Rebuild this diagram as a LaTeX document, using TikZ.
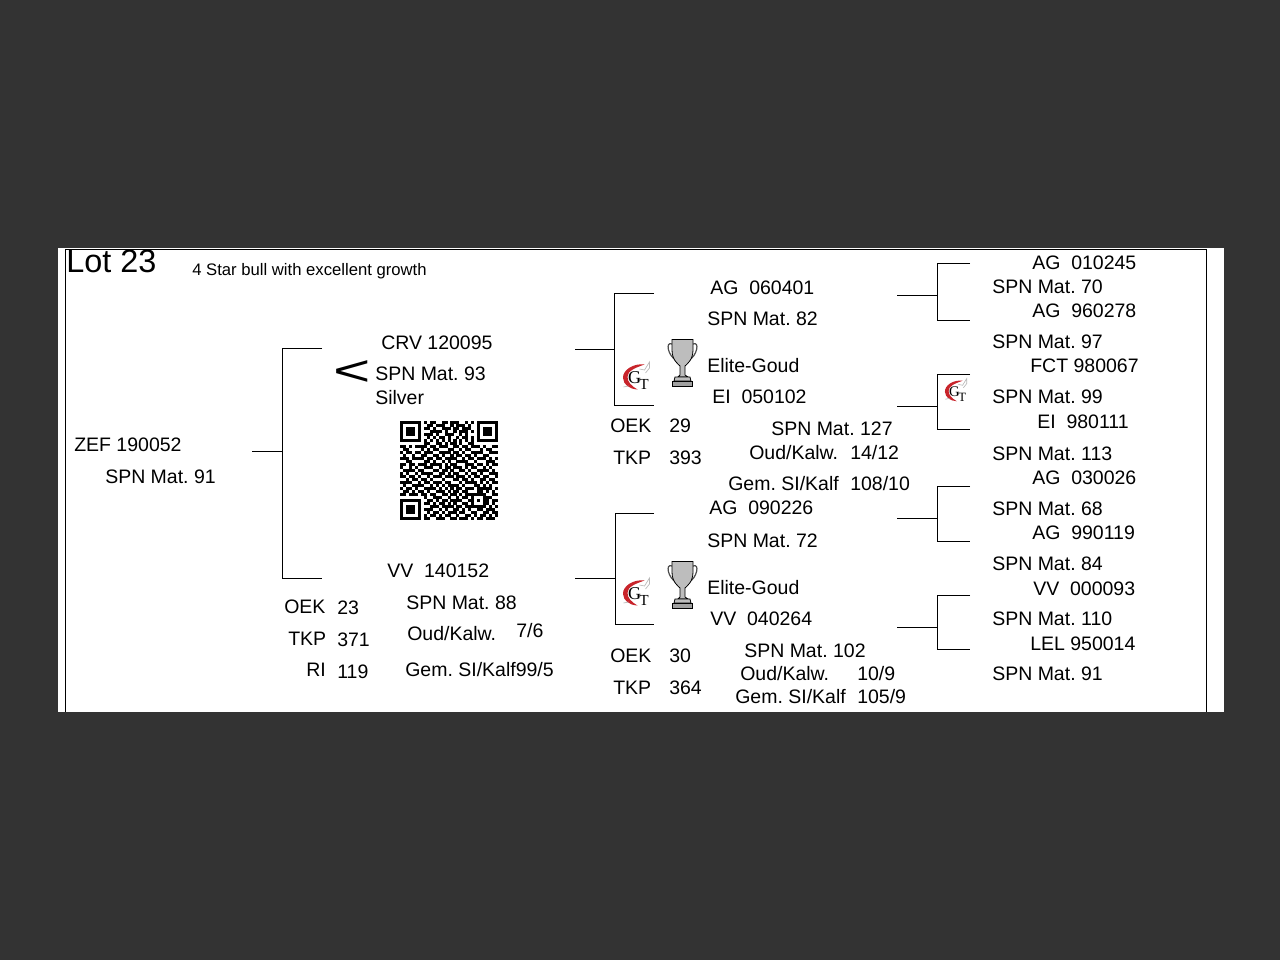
\documentclass[tikz,border=0pt]{standalone}
\usepackage{fontspec}
\setmainfont{Liberation Sans}
\definecolor{bgdark}{HTML}{333333}
\definecolor{logored}{HTML}{C8242B}
\definecolor{cupgrey}{HTML}{BDBDBD}
\newcount\qrx
\def\qrscan#1{\ifx#1;\else\ifx#11\fill ({400+2.97*\the\qrx},{421+3*\qrrowno}) rectangle ({400+2.97*\the\qrx+3.05},{421+3*\qrrowno+3.05});\fi\advance\qrx by 1 \expandafter\qrscan\fi}
\newcommand{\gtlogo}[5]{%
 \begin{scope}[shift={(#1,#2)},scale=#3]
  \fill[logored] (8,-12.5) .. controls (-3,-14) and (-14,-7) .. (-13.5,1) .. controls (-13,8) and (-7,12) .. (1,12.5) .. controls (-5,9) and (-9,5) .. (-9,0) .. controls (-9,-6) and (-2,-9) .. (8,-12.5) -- cycle;
  \draw[gray!55,line width=.5pt] (3,-8) -- (8,-7) -- (13,-15) -- (13,-9) -- (9,-4);
  \draw[gray!55,line width=.5pt] (-13,10) -- (-8,9);
  \node[font=\fontsize{#4}{#4}\selectfont,inner sep=0pt] (logoG) at (-2,1) {\fontspec{Liberation Serif}G};
  \node[font=\fontsize{#5}{#5}\selectfont,inner sep=0pt] (logoT) at (7.5,7.5) {\fontspec{Liberation Serif}T};
 \end{scope}}
\newcommand{\trophy}[1]{%
 \begin{scope}[yshift=#1]
  \draw[black!70,line width=.9pt] (672,344) .. controls (665,341) and (668,356) .. (676,360);
  \draw[black!70,line width=.9pt] (693,344) .. controls (700,341) and (697,356) .. (689,360);
  \draw[black,line width=.6pt,fill=cupgrey] (672,339.5) -- (693,339.5) -- (693,350) .. controls (693,360) and (687,364) .. (685,366) -- (685,375) -- (688,377) -- (678,377) -- (680,375) -- (680,366) .. controls (678,364) and (672,360) .. (672,350) -- cycle;
  \draw[black,line width=.6pt,fill=cupgrey] (675,377) -- (690,377) -- (691,381) -- (674,381) -- cycle;
  \draw[black,line width=.6pt,fill=cupgrey!85!black] (672.5,381) -- (692.5,381) -- (692.5,386.5) -- (672.5,386.5) -- cycle;
 \end{scope}}
\tikzset{
 lbl/.style={anchor=base west,inner sep=0pt,font=\fontsize{14.62pt}{16pt}\selectfont,text=black},
 conn/.style={draw=black,line width=.75pt},
 frameline/.style={draw=black,line width=1pt},
}
\begin{document}
\frenchspacing
\begin{tikzpicture}[x=.75pt,y=-.75pt]
\useasboundingbox (0,0) rectangle (1280,960);
\fill[bgdark] (0,0) rectangle (1280,960);
\fill[white] (58,248) rectangle (1224,712);
% frame
\coordinate (fa) at (65.5,712); \coordinate (fb) at (65.5,249.5); \coordinate (fc) at (1206.5,249.5); \coordinate (fd) at (1206.5,712);
\draw[frameline] (fa) -- (fb) -- (fc) -- (fd);
% title
\node[lbl,font=\fontsize{24.3pt}{26pt}\selectfont] (lot) at (66,272) {Lot 23};
\node[lbl,font=\fontsize{12.5pt}{14pt}\selectfont] (sub) at (192,275) {4 Star bull with excellent growth};
% column 1
\node[lbl] (n01) at (74,451) {ZEF 190052};
\node[lbl] (n02) at (105,483) {SPN Mat. 91};
% column 2
\node[lbl] (n03) at (381,349) {CRV 120095};
\node[lbl] (n04) at (375,380) {SPN Mat. 93};
\node[lbl] (n05) at (375,404) {Silver};
\node[lbl,font=\fontsize{32pt}{32pt}\selectfont,xscale=1.5,anchor=center] (lt) at (352,373) {<};
\node[lbl] (n06) at (387,577) {VV\ \ 140152};
\node[lbl] (n07) at (406,609) {SPN Mat. 88};
\node[lbl] (n08) at (407,640) {Oud/Kalw.};
\node[lbl] (n09) at (516,637) {7/6};
\node[lbl] (n10) at (405,676) {Gem. SI/Kalf99/5};
\node[lbl] (n11) at (284,613) {OEK};
\node[lbl] (n12) at (337,614) {23};
\node[lbl] (n13) at (288,645) {TKP};
\node[lbl] (n14) at (337,646) {371};
\node[lbl] (n15) at (306,676) {RI};
\node[lbl] (n16) at (337,678) {119};
% column 3
\node[lbl] (n17) at (610,432) {OEK};
\node[lbl] (n18) at (669,432) {29};
\node[lbl] (n19) at (613,464) {TKP};
\node[lbl] (n20) at (669,464) {393};
\node[lbl] (n21) at (710,294) {AG\ \ 060401};
\node[lbl] (n22) at (707,325) {SPN Mat. 82};
\node[lbl] (n23) at (707,372) {Elite-Goud};
\node[lbl] (n24) at (712,403) {EI\ \ 050102};
\node[lbl] (n25) at (771,435) {SPN Mat. 127};
\node[lbl] (n26) at (749,459) {Oud/Kalw.};
\node[lbl] (n27) at (850,459) {14/12};
\node[lbl] (n28) at (728,490) {Gem. SI/Kalf};
\node[lbl] (n29) at (850,490) {108/10};
\node[lbl] (n30) at (709,514) {AG\ \ 090226};
\node[lbl] (n31) at (707,547) {SPN Mat. 72};
\node[lbl] (n32) at (707,594) {Elite-Goud};
\node[lbl] (n33) at (710,625) {VV\ \ 040264};
\node[lbl] (n34) at (744,657) {SPN Mat. 102};
\node[lbl] (n35) at (740,680) {Oud/Kalw.};
\node[lbl] (n36) at (857,680) {10/9};
\node[lbl] (n37) at (735,703) {Gem. SI/Kalf};
\node[lbl] (n38) at (857,703) {105/9};
\node[lbl] (n39) at (610,662) {OEK};
\node[lbl] (n40) at (669,662) {30};
\node[lbl] (n41) at (613,694) {TKP};
\node[lbl] (n42) at (669,694) {364};
% column 4
\node[lbl] (r01) at (1032,269) {AG\ \ 010245};
\node[lbl] (r02) at (992,293) {SPN Mat. 70};
\node[lbl] (r03) at (1032,317) {AG\ \ 960278};
\node[lbl] (r04) at (992,348) {SPN Mat. 97};
\node[lbl] (r05) at (1030,372) {FCT 980067};
\node[lbl] (r06) at (992,403) {SPN Mat. 99};
\node[lbl] (r07) at (1037,428) {EI\ \ 980111};
\node[lbl] (r08) at (992,460) {SPN Mat. 113};
\node[lbl] (r09) at (1032,484) {AG\ \ 030026};
\node[lbl] (r10) at (992,515) {SPN Mat. 68};
\node[lbl] (r11) at (1032,539) {AG\ \ 990119};
\node[lbl] (r12) at (992,570) {SPN Mat. 84};
\node[lbl] (r13) at (1033,595) {VV\ \ 000093};
\node[lbl] (r14) at (992,625) {SPN Mat. 110};
\node[lbl] (r15) at (1030,650) {LEL 950014};
\node[lbl] (r16) at (992,680) {SPN Mat. 91};
% brackets
\coordinate (a0) at (252,451); \coordinate (am) at (282.5,451); \coordinate (a1) at (322,348.5); \coordinate (a2) at (322,578.5);
\draw[conn] (a0) -- (am);
\draw[conn] (a1) -| (am) |- (a2);
\coordinate (b0) at (575,349.5); \coordinate (bm) at (614.5,349.5); \coordinate (b1) at (654,293.5); \coordinate (b2) at (654,405.5);
\draw[conn] (b0) -- (bm);
\draw[conn] (b1) -| (bm) |- (b2);
\coordinate (c0) at (575,578.5); \coordinate (cm) at (615.5,578.5); \coordinate (c1) at (654,513.5); \coordinate (c2) at (654,624.5);
\draw[conn] (c0) -- (cm);
\draw[conn] (c1) -| (cm) |- (c2);
\coordinate (d0) at (897,295.5); \coordinate (dm) at (937.8,295.5); \coordinate (d1) at (970,263.5); \coordinate (d2) at (970,320.5);
\draw[conn] (d0) -- (dm);
\draw[conn] (d1) -| (dm) |- (d2);
\coordinate (e0) at (897,406.5); \coordinate (em) at (937.8,406.5); \coordinate (e1) at (970,374.5); \coordinate (e2) at (970,429.5);
\draw[conn] (e0) -- (em);
\draw[conn] (e1) -| (em) |- (e2);
\coordinate (f0) at (897,518.5); \coordinate (fm) at (937.8,518.5); \coordinate (f1) at (970,486.5); \coordinate (f2) at (970,541.5);
\draw[conn] (f0) -- (fm);
\draw[conn] (f1) -| (fm) |- (f2);
\coordinate (g0) at (897,627.5); \coordinate (gm) at (937.8,627.5); \coordinate (g1) at (970,595.5); \coordinate (g2) at (970,649.5);
\draw[conn] (g0) -- (gm);
\draw[conn] (g1) -| (gm) |- (g2);
% logos and trophies
\gtlogo{636.5}{377}{1}{13.5pt}{11.5pt}
\gtlogo{636.5}{593}{1}{13.5pt}{11.5pt}
\gtlogo{956}{391}{.82}{11pt}{9.5pt}
\trophy{0pt}
\trophy{-166.5pt}
% QR code
\foreach \qrcode [count=\qrn from 0] in {%
111111101011001101110010101111111,
100000100110111001011101001000001,
101110101101001110110111001011101,
101110100011110100101110101011101,
101110101110100111001010001011101,
100000100101011010010110101000001,
111111101010101010101010101111111,
000000001100110101101001100000000,
110101111011011100110110111010011,
011000010101100011001011000101100,
101101101110011110110100111100111,
010010011001101001011011010011000,
111011110110110111100101101110101,
001100001101001010011110010001110,
110110111011110101100011101101011,
100101001110010110111010110010100,
011110110001101101001101001111010,
101001011110011010110010110100111,
110110100101110111011101011011001,
001011011010001000110110100110110,
111100101101110110001011110101011,
010011110010101011110100011010100,
101101001111010101011011101111101,
011010110100111010110110001101010,
110111011011001101101011111110011,
000000001001110010010110100011100,
111111100110101101111001101011011,
100000101101011010100110100011010,
101110100011101111011011111110101,
101110101110010100110101001101110,
101110100101101011101100110011011,
100000101011010110010011010110101,
111111101100111001101110101101110}{%
 \global\qrx=0 \xdef\qrrowno{\qrn}\expandafter\qrscan\qrcode;}
\end{tikzpicture}
\end{document}
